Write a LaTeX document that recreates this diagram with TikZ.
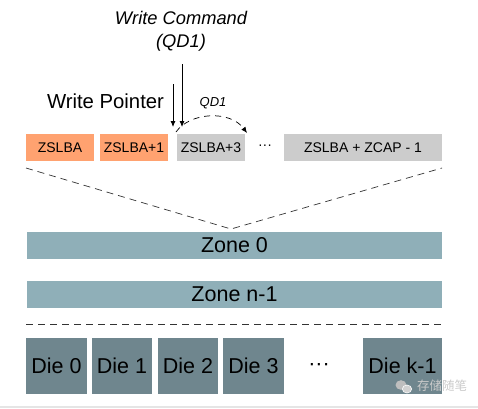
\documentclass[tikz,border=0pt]{standalone}
\usepackage{fontspec}
\setmainfont{Liberation Sans}
\newfontfamily\cjkfont{Noto Sans CJK SC}
\usetikzlibrary{arrows.meta}
\definecolor{lbaorange}{RGB}{255,162,112}
\definecolor{lbagray}{RGB}{204,204,204}
\definecolor{zonecol}{RGB}{143,175,184}
\definecolor{diecol}{RGB}{111,134,142}
\definecolor{wmgray}{RGB}{190,190,190}
\tikzset{
  lbabox/.style={draw=none, fill=#1, minimum height=27pt, inner sep=0pt, font=\fontsize{14}{16}\selectfont},
  zonebox/.style={draw=none, fill=zonecol, minimum width=415pt, minimum height=27pt, inner sep=0pt, font=\fontsize{21.5}{24}\selectfont},
  diebox/.style={draw=none, fill=diecol, minimum height=56pt, inner sep=0pt, font=\fontsize{21.5}{24}\selectfont},
  dashline/.style={dash pattern=on 7pt off 5pt, line width=0.7pt, black!80},
  cmdarrow/.style={-{Latex[length=6pt,width=5pt]}, line width=0.8pt},
  lbl/.style={inner sep=0pt}
}
\begin{document}
\begin{tikzpicture}[x=1pt,y=-1pt]
\useasboundingbox (0,0) rectangle (478,408);
\fill[white] (0,0) rectangle (478,408);
\fill[black!10] (0,406) rectangle (478,408);

% top labels
\node[lbl, font=\fontsize{18.3}{22}\selectfont\itshape, align=center] (cmd) at (181,31) {Write Command\\[1pt](QD1)};
\node[lbl, font=\fontsize{20.3}{24}\selectfont] (wp) at (105.5,101) {Write Pointer};
\node[lbl, font=\fontsize{13}{15}\selectfont\itshape] (qd) at (213,103) {QD1};

% LBA boxes
\node[lbabox=lbaorange, minimum width=68pt] (b0) at (60,147.5) {ZSLBA};
\node[lbabox=lbaorange, minimum width=68pt] (b1) at (134,147.5) {ZSLBA+1};
\node[lbabox=lbagray, minimum width=68pt] (b3) at (211,147.5) {ZSLBA+3};
\node[lbl, font=\fontsize{14}{16}\selectfont] (dots1) at (265,147.5) {···};
\node[lbabox=lbagray, minimum width=158pt] (bl) at (363,147.5) {ZSLBA + ZCAP - 1};

% arrows
\coordinate (cmdtop) at (182,64);
\coordinate (wptop) at (173,84);
\coordinate (cmdtip) at (182,127);
\coordinate (wptip) at (173,127);
\draw[cmdarrow] (cmdtop) -- (cmdtip);
\draw[cmdarrow] (wptop) -- (wptip);
\coordinate (arcs) at (176,132);
\coordinate (arce) at (247,133);
\draw[dash pattern=on 6pt off 5pt, line width=0.7pt, -{Latex[length=6pt,width=5pt]}] (arcs) .. controls (190,112) and (230,110) .. (arce);

% V dashed
\coordinate (vl) at (26,168);
\coordinate (vm) at (231,229);
\coordinate (vr) at (442,168);
\draw[dashline] (vl) -- (vm) -- (vr);

% zones
\node[zonebox] (z0) at (234.5,245.5) {Zone 0};
\node[zonebox] (zn) at (234.5,294.5) {Zone n-1};

% horizontal dashed
\coordinate (hl) at (26,324);
\coordinate (hr) at (443,324);
\draw[dashline] (hl) -- (hr);

% dies
\node[diebox, minimum width=61pt] (d0) at (56.5,366) {Die 0};
\node[diebox, minimum width=60pt] (d1) at (122,366) {Die 1};
\node[diebox, minimum width=60pt] (d2) at (188,366) {Die 2};
\node[diebox, minimum width=61pt] (d3) at (253.5,366) {Die 3};
\node[lbl, font=\fontsize{21.5}{24}\selectfont] (dots2) at (319,367) {···};
\node[diebox, minimum width=79pt] (dk) at (402.5,366) {Die k-1};

% watermark
\fill[wmgray] (401,385) ellipse (5.5pt and 4.8pt);
\fill[white] (407,389) ellipse (5pt and 4.3pt);
\fill[wmgray!70] (407,389) ellipse (4.2pt and 3.6pt);
\node[lbl, text=wmgray!80, font=\cjkfont\fontsize{12.5}{14}\selectfont] (wm) at (442,386) {存储随笔};
\end{tikzpicture}
\end{document}
